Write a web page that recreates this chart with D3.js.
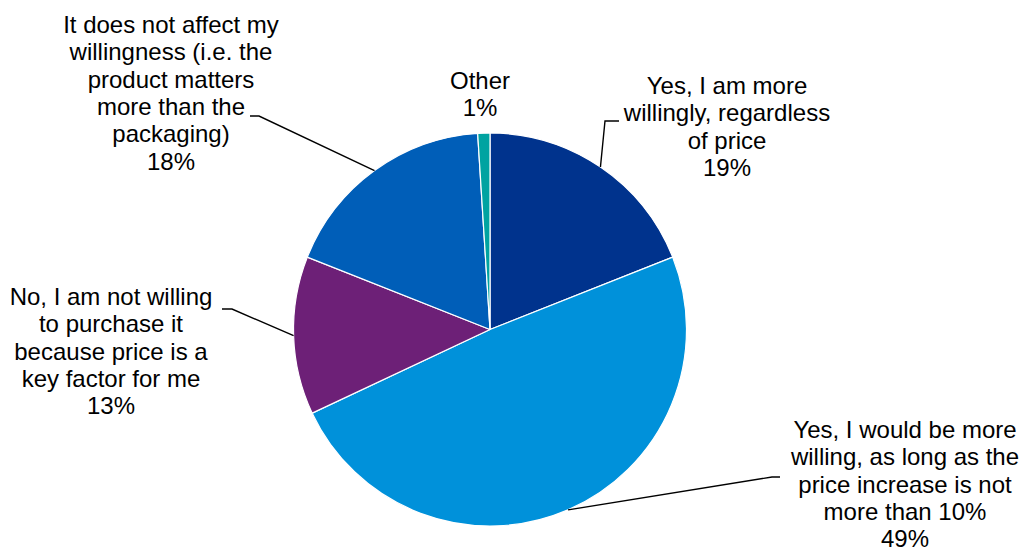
<!DOCTYPE html>
<html>
<head>
<meta charset="utf-8">
<script src="https://cdn.jsdelivr.net/npm/d3@7/dist/d3.min.js"></script>
<style>
  html, body { margin: 0; padding: 0; background: #fff; }
  svg { display: block; }
  text { font-family: "Liberation Sans", Arial, sans-serif; font-size: 24px; fill: #000; }
</style>
</head>
<body>
<svg id="chart" width="1022" height="548"></svg>
<script>
// Survey answers, in clockwise order from 12 o'clock
const categories = [
  "Yes, I am more willingly, regardless of price",
  "Yes, I would be more willing, as long as the price increase is not more than 10%",
  "No, I am not willing to purchase it because price is a key factor for me",
  "It does not affect my willingness (i.e. the product matters more than the packaging)",
  "Other"
];
const values = [19, 49, 13, 18, 1];
const colors = ["#00338D", "#0091DA", "#6D2077", "#005EB8", "#00A3A1"];

// Wrapped label lines for each answer (the percentage line is appended from values)
const labelLines = [
  ["Yes, I am more", "willingly, regardless", "of price"],
  ["Yes, I would be more", "willing, as long as the", "price increase is not", "more than 10%"],
  ["No, I am not willing", "to purchase it", "because price is a", "key factor for me"],
  ["It does not affect my", "willingness (i.e. the", "product matters", "more than the", "packaging)"],
  ["Other"]
];

// Label placement: text centre x, first baseline y, and leader elbow (null = no leader)
const labelLayout = [
  { x: 727, y: 94,  elbow: [[605, 121], [619, 121]] },
  { x: 905, y: 438, elbow: [[772, 477], [780, 477]] },
  { x: 111, y: 305, elbow: [[232, 309], [222, 309]] },
  { x: 171, y: 33,  elbow: [[259, 116], [250, 116]] },
  { x: 480, y: 89,  elbow: null }
];
const lineHeight = 27.3;

const svg = d3.select("#chart");
const cx = 490, cy = 329.5, radius = 196.5;

const pie = d3.pie().sort(null).value(d => d)(values);
const arc = d3.arc().innerRadius(0).outerRadius(radius);

const g = svg.append("g").attr("transform", `translate(${cx},${cy})`);

g.selectAll("path.slice")
  .data(pie)
  .join("path")
  .attr("class", "slice")
  .attr("d", arc)
  .attr("fill", (d, i) => colors[i])
  .attr("stroke", "#fff")
  .attr("stroke-width", 1.2)
  .attr("stroke-linejoin", "round");

// Leader lines: start on the rim at each slice's mid-angle
pie.forEach((d, i) => {
  const lay = labelLayout[i];
  if (!lay.elbow) return;
  const a = (d.startAngle + d.endAngle) / 2;
  const start = [cx + radius * Math.sin(a), cy - radius * Math.cos(a)];
  const pts = [start, ...lay.elbow];
  svg.append("path")
    .attr("d", d3.line()(pts))
    .attr("fill", "none")
    .attr("stroke", "#000")
    .attr("stroke-width", 1.4);
});

// Labels
pie.forEach((d, i) => {
  const lay = labelLayout[i];
  const lines = labelLines[i].concat([values[i] + "%"]);
  const t = svg.append("text")
    .attr("text-anchor", "middle")
    .attr("aria-label", categories[i]);
  lines.forEach((ln, k) => {
    t.append("tspan")
      .attr("x", lay.x)
      .attr("y", lay.y + k * lineHeight)
      .text(ln);
  });
});
</script>
</body>
</html>
